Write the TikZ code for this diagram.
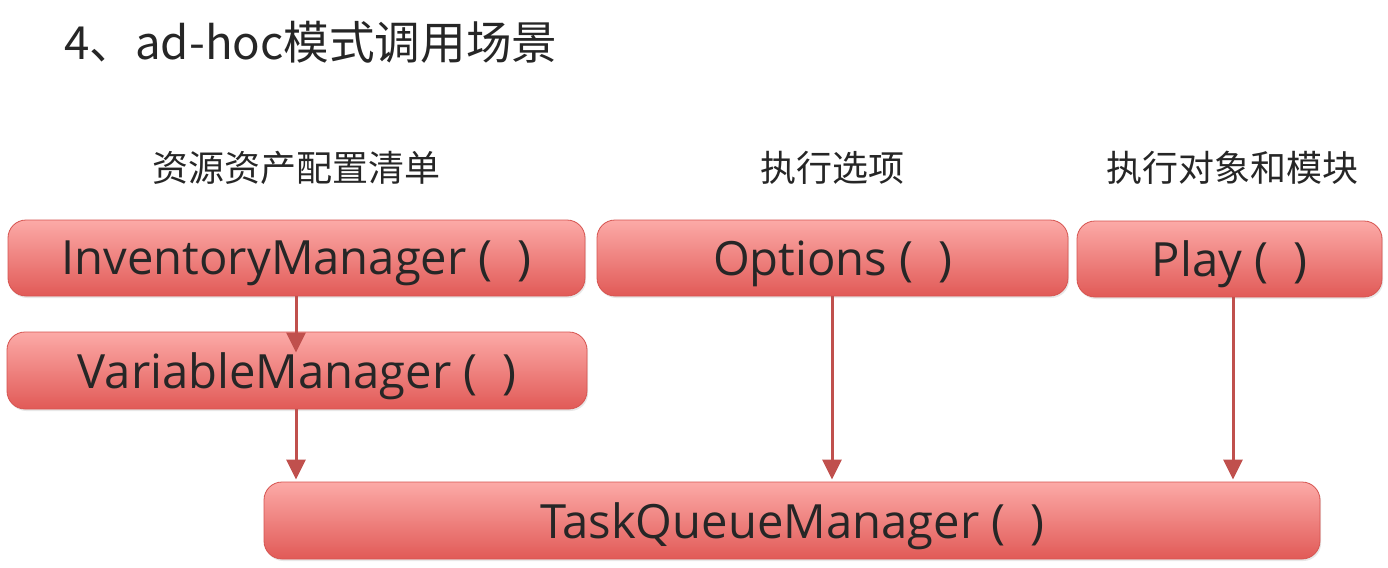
\documentclass[tikz,border=0pt]{standalone}
\usepackage{fontspec}
\setmainfont{Open Sans}
\newfontfamily\cjk{Noto Sans CJK SC}
\usetikzlibrary{arrows.meta,shadows}
\definecolor{boxtop}{HTML}{FCAAA7}
\definecolor{boxbot}{HTML}{E15A57}
\definecolor{boxedge}{HTML}{D65450}
\definecolor{arrcol}{HTML}{C0504D}
\definecolor{txt}{HTML}{262626}
\tikzset{
  rbox/.style={rectangle, rounded corners=9pt, top color=boxtop, bottom color=boxbot,
    draw=boxedge, line width=0.4pt, text=txt, font=\fontsize{23.6}{26}\selectfont,
    inner sep=0pt, text depth=0pt,
    drop shadow={opacity=0.18, shadow xshift=0.6pt, shadow yshift=-1pt}},
  lab/.style={text=txt, font=\cjk\fontsize{18}{21}\selectfont, inner sep=0pt},
  arr/.style={draw=arrcol, line width=1.5pt, -{Triangle[width=9.5pt,length=10pt]}}
}
\begin{document}
\begin{tikzpicture}[x=0.5pt,y=-0.5pt]
\useasboundingbox[fill=white] (0,0) rectangle (1388,568);
\node[text=txt, font=\cjk\fontsize{22.8}{26}\selectfont, anchor=west, inner sep=0pt] (title) at (64,42) {4、ad-hoc模式调用场景};
\node[lab] (l1) at (296,168) {资源资产配置清单};
\node[lab] (l2) at (832,168) {执行选项};
\node[lab] (l3) at (1232,168) {执行对象和模块};

\node[rbox, minimum width=288.5pt, minimum height=38pt] (inv) at (296.5,258) {InventoryManager~(~~)};
\node[rbox, minimum width=235.5pt, minimum height=38pt] (opt) at (832.5,258) {Options~(~~)};
\node[rbox, minimum width=152.5pt, minimum height=38pt] (play) at (1229.5,259) {Play~(~~)};
\node[rbox, minimum width=290pt, minimum height=38.5pt] (var) at (297,370.5) {VariableManager~(~~)};
\node[rbox, minimum width=528pt, minimum height=38.5pt] (tqm) at (792,520.5) {TaskQueueManager~(~~)};

\coordinate (c1) at (296,0);
\coordinate (c2) at (832,0);
\coordinate (c3) at (1233,0);
\draw[arr] (inv.south -| c1) -- ([yshift=-10.5pt]var.north -| c1);
\draw[arr] (var.south -| c1) -- ([yshift=1pt]tqm.north -| c1);
\draw[arr] (opt.south -| c2) -- ([yshift=1pt]tqm.north -| c2);
\draw[arr] (play.south -| c3) -- ([yshift=1pt]tqm.north -| c3);
\end{tikzpicture}
\end{document}
